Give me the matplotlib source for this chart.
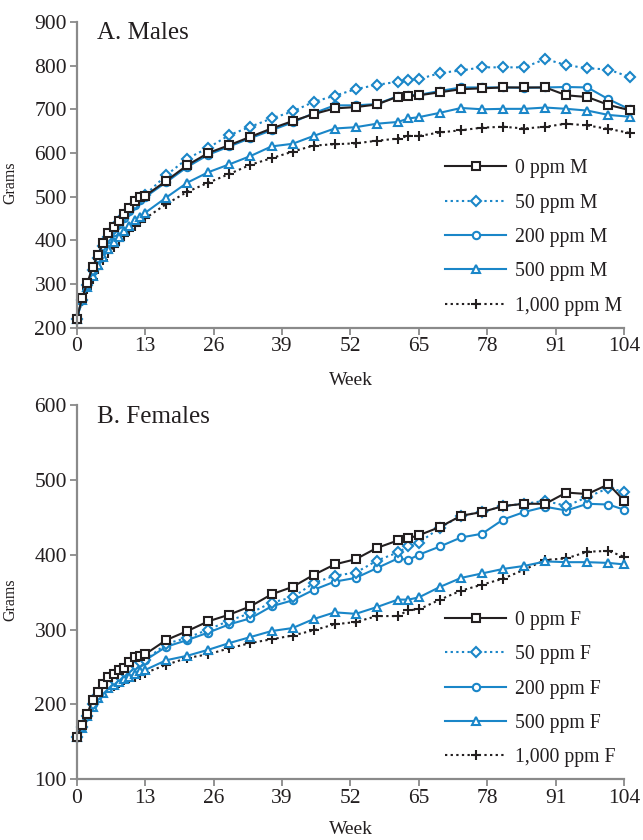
import matplotlib
matplotlib.use('Agg')
import matplotlib.pyplot as plt

# week of measurement
weeks_m = [0, 1, 2, 3, 4, 5, 6, 7, 8, 9, 10, 11, 12, 13, 17, 21, 25, 29, 33,
           37, 41, 45, 49, 53, 57, 61, 63, 65, 69, 73, 77, 81, 85, 89, 93, 97, 101, 105]
weeks_f = [0, 1, 2, 3, 4, 5, 6, 7, 8, 9, 10, 11, 12, 13, 17, 21, 25, 29, 33,
           37, 41, 45, 49, 53, 57, 61, 63, 65, 69, 73, 77, 81, 85, 89, 93, 97, 101, 104]

# mean body weights (grams), males
m_0 = [219, 267, 302, 338, 366, 393, 416, 431, 445, 461, 475, 490, 500, 502,
       536, 572, 600, 618, 637, 656, 673, 689, 702, 705, 711, 729, 730, 732, 739,
       746, 748, 750, 750, 750, 732, 728, 710, 698]
m_50 = [219, 264, 298, 333, 360, 386, 408, 425, 441, 456, 470, 484, 496, 504,
        549, 587, 612, 641, 660, 679, 695, 717, 731, 746, 756, 763, 766, 769, 783,
        789, 796, 796, 796, 815, 801, 794, 791, 774]
m_200 = [219, 264, 297, 330, 357, 382, 404, 420, 437, 452, 466, 480, 492, 499,
         533, 568, 596, 615, 634, 652, 670, 691, 709, 709, 712, 730, 732, 733, 742,
         750, 750, 750, 749, 750, 751, 750, 723, 700]
m_500 = [219, 263, 294, 318, 343, 361, 379, 397, 408, 422, 433, 446, 454, 463,
         498, 532, 556, 574, 593, 615, 621, 639, 656, 659, 667, 671, 679, 682, 692,
         703, 700, 701, 701, 704, 701, 697, 687, 683]
m_1000 = [219, 260, 288, 312, 335, 354, 370, 385, 398, 410, 421, 432, 441, 450,
          483, 511, 532, 552, 573, 588, 603, 617, 620, 622, 628, 633, 639, 639, 647,
          652, 658, 660, 656, 660, 667, 663, 655, 646]

# females
f_0 = [156, 172, 187, 206, 217, 227, 236, 241, 246, 249, 257, 263, 265, 267,
       286, 298, 311, 320, 331, 347, 357, 373, 387, 394, 409, 419, 422, 426, 437,
       452, 457, 465, 468, 468, 483, 481, 494, 472]
f_50 = [156, 170, 185, 200, 212, 220, 227, 233, 238, 243, 248, 252, 256, 259,
        281, 289, 300, 312, 322, 336, 343, 362, 372, 376, 392, 403, 411, 416, 436,
        452, 457, 465, 468, 472, 465, 477, 489, 484]
f_200 = [156, 170, 185, 200, 213, 222, 229, 235, 240, 245, 250, 254, 257, 259,
         277, 286, 296, 307, 315, 331, 339, 353, 364, 369, 382, 395, 393, 400, 411,
         423, 428, 447, 457, 464, 459, 468, 467, 460]
f_500 = [156, 168, 184, 197, 208, 215, 222, 226, 230, 234, 237, 241, 244, 246,
         259, 265, 273, 282, 290, 298, 302, 314, 323, 321, 330, 340, 340, 343, 357,
         369, 375, 381, 385, 391, 390, 390, 389, 387]
f_1000 = [156, 170, 186, 199, 213, 217, 222, 225, 228, 233, 235, 237, 239, 242,
          253, 262, 267, 275, 282, 287, 292, 299, 307, 310, 318, 318, 326, 327, 340,
          352, 360, 368, 380, 393, 395, 404, 405, 397]

doses = ['0 ppm', '50 ppm', '200 ppm', '500 ppm', '1,000 ppm']
xticks = [0, 13, 26, 39, 52, 65, 78, 91, 104]

BLACK = '#231f20'
BLUE = '#1a86c8'
GREY = '#8a8a8a'
DOT = (0, (1.1, 1.6))

styles = [
    dict(color=BLACK, ls='-', marker='s', ms=5.6),
    dict(color=BLUE, ls=DOT, marker='D', ms=5.0),
    dict(color=BLUE, ls='-', marker='o', ms=5.3),
    dict(color=BLUE, ls='-', marker='^', ms=5.8),
    dict(color=BLACK, ls=DOT, marker='+', ms=6.5),
]

plt.rcParams['font.family'] = ['Liberation Serif', 'DejaVu Serif']

fig = plt.figure(figsize=(6.43, 8.40), dpi=100)
ax1 = fig.add_axes([0.1193, 0.6099, 0.8516, 0.3640])
ax2 = fig.add_axes([0.1193, 0.0723, 0.8516, 0.4456])


def draw_panel(ax, weeks, series, sex, ylim, yticks, title, legend_y):
    handles = [None] * len(series)
    # draw the highest dose first so the control squares sit on top
    for i in reversed(range(len(series))):
        st = styles[i]
        mfc = BLACK if st['marker'] == '+' else 'white'
        h, = ax.plot(weeks, series[i], color=st['color'], ls=st['ls'],
                     lw=1.5, marker=st['marker'], ms=st['ms'],
                     mfc=mfc, mec=st['color'], mew=1.5, clip_on=False,
                     label=f'{doses[i]} {sex}')
        handles[i] = h
    ax.set_xlim(0, 104)
    ax.set_ylim(*ylim)
    ax.set_xticks(xticks)
    ax.set_yticks(yticks)
    for s in ['top', 'right']:
        ax.spines[s].set_visible(False)
    for s in ['left', 'bottom']:
        ax.spines[s].set_color(GREY)
        ax.spines[s].set_linewidth(1.6)
    ax.tick_params(direction='out', length=5, width=1.3, color=GREY,
                   labelsize=15.5, labelcolor=BLACK, pad=2)
    ax.set_xlabel('Week', fontsize=14, color=BLACK)
    ax.set_ylabel('Grams', fontsize=11.5, color=BLACK)
    ax.text(0.037, legend_y[0], title, transform=ax.transAxes,
            fontsize=18, color=BLACK, va='baseline')
    ax.legend(handles=handles, loc='center left',
              bbox_to_anchor=(0.673, legend_y[1]), frameon=False,
              fontsize=14.2, handlelength=3.1, handletextpad=0.45,
              labelspacing=0.78, borderpad=0, borderaxespad=0,
              labelcolor=BLACK)


draw_panel(ax1, weeks_m, [m_0, m_50, m_200, m_500, m_1000], 'M',
           (200, 900), range(200, 901, 100), 'A. Males', (0.943, 0.295))
draw_panel(ax2, weeks_f, [f_0, f_50, f_200, f_500, f_1000], 'F',
           (100, 600), range(100, 601, 100), 'B. Females', (0.951, 0.241))

ax1.yaxis.set_label_coords(-0.107, 0.473)
ax2.yaxis.set_label_coords(-0.107, 0.479)
ax1.xaxis.set_label_coords(0.5, -0.145)
ax2.xaxis.set_label_coords(0.5, -0.112)

fig.savefig('out.png', dpi=100)
